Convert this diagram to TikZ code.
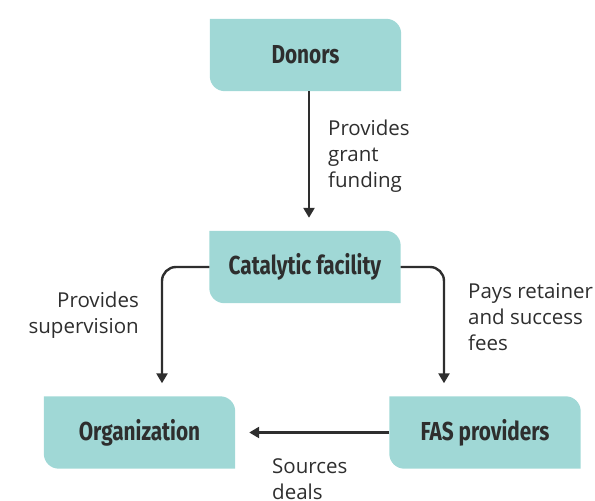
\documentclass[tikz,border=0pt]{standalone}
\usepackage{fontspec}
\setmainfont{Open Sans}
\newfontfamily\boxfont[FakeStretch=0.8]{Fira Sans}
\usetikzlibrary{arrows.meta,backgrounds}

\definecolor{boxteal}{HTML}{A0D8D6}
\definecolor{inkgray}{HTML}{2E2E2E}

\tikzset{
  stepbox/.style={minimum width=191pt, minimum height=72pt, inner sep=0pt,
    font=\boxfont\bfseries\fontsize{26}{28}\selectfont, text=inkgray},
  flow/.style={draw=inkgray, line width=2.4pt, -{Triangle[length=10pt,width=11pt]}},
  note/.style={font=\fontsize{20.5}{26}\selectfont, text=inkgray, inner sep=0pt}
}

% tab-shaped fill: top right and bottom left corners round
\newcommand{\tabfill}[1]{%
  \fill[boxteal] (#1.north west) -- ([xshift=-15pt]#1.north east)
    arc[start angle=90, end angle=0, radius=15pt] -- (#1.south east)
    -- ([xshift=15pt]#1.south west)
    arc[start angle=270, end angle=180, radius=15pt] -- cycle;}

\begin{document}
\begin{tikzpicture}[x=1pt, y=1pt]
  \useasboundingbox (0,0) rectangle (595,501);

  \node[stepbox] (donors) at (305.5, 446) {Donors};
  \node[stepbox] (facility) at (305, 234) {Catalytic facility};
  \node[stepbox] (org) at (139.5, 68.5) {Organization};
  \node[stepbox] (fas) at (485, 68.5) {FAS providers};

  \begin{pgfonlayer}{background}
    \tabfill{donors}
    \tabfill{facility}
    \tabfill{org}
    \tabfill{fas}
  \end{pgfonlayer}

  \draw[flow, shorten >=13pt] ([xshift=3.5pt]donors.south) -- ([xshift=4pt]facility.north);
  \draw[flow, rounded corners=14pt, shorten >=13pt] (facility.west) -| ([xshift=22.5pt]org.north);
  \draw[flow, rounded corners=14pt, shorten >=13pt] (facility.east) -| ([xshift=-41pt]fas.north);
  \draw[flow, shorten >=14pt] (fas.west) -- (org.east);

  \node[note, anchor=north west, align=left] (grant) at (328, 381) {Provides\\grant\\funding};
  \node[note, anchor=north east, align=right] (superv) at (139, 209) {Provides\\supervision};
  \node[note, anchor=north west, align=left] (fees) at (468, 218) {Pays retainer\\and success\\fees};
  \node[note, anchor=north west, align=left] (deals) at (272, 43) {Sources\\deals};
\end{tikzpicture}
\end{document}
